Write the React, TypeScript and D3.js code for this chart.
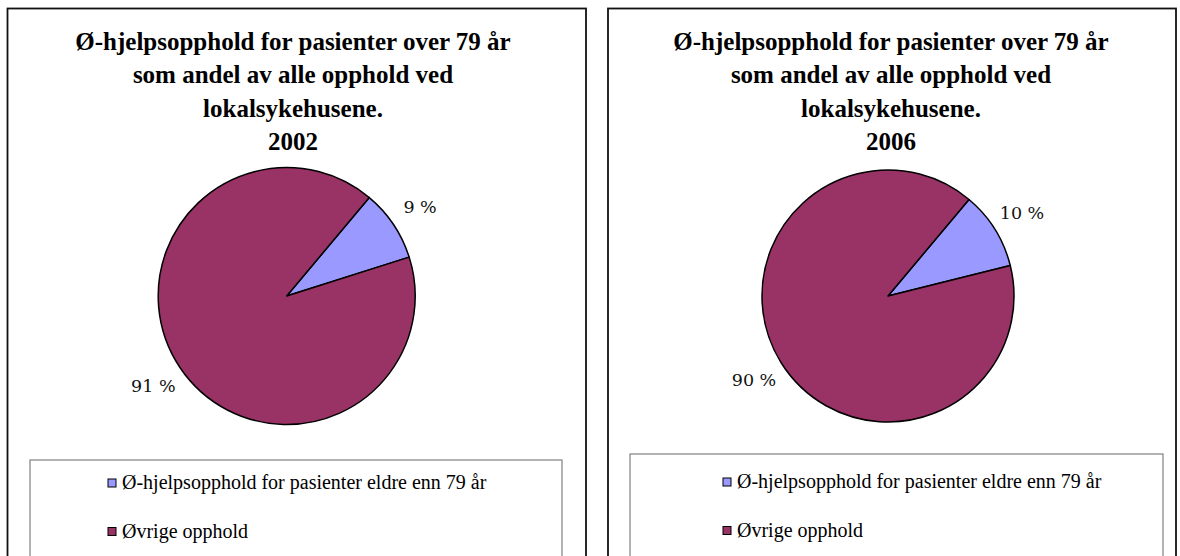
import React from "react";
import * as d3 from "d3";

// chart data
const titleLines = [
  "Ø-hjelpsopphold for pasienter over 79 år",
  "som andel av alle opphold ved",
  "lokalsykehusene.",
];
const years = ["2002", "2006"];
const categories = [
  "Ø-hjelpsopphold for pasienter eldre enn 79 år",
  "Øvrige opphold",
];
const values2002 = [9, 91];
const values2006 = [10, 90];
const colors = ["#9999FF", "#993366"];

const W = 1180;
const H = 556;
const font = "'Liberation Serif', 'Times New Roman', Times, serif";
const labelFont = "'DejaVu Serif', serif";

// layout of the two chart boxes
const panels = [
  { x0: 7.5, x1: 586, titleX: 293, cx: 286.7, cy: 296, r: 128.5, lx0: 30, lx1: 562, ly: 460, mx: 108, row0: 483 },
  { x0: 608, x1: 1176, titleX: 891, cx: 888, cy: 296, r: 126, lx0: 630, lx1: 1163, ly: 454, mx: 723, row0: 482 },
];
const seriesByPanel = [values2002, values2006];

const pie = d3
  .pie<number>()
  .sort(null)
  .value((d) => d)
  .startAngle((40 * Math.PI) / 180)
  .endAngle((40 * Math.PI) / 180 + 2 * Math.PI);

function Panel({ idx }: { idx: number }) {
  const p = panels[idx];
  const values = seriesByPanel[idx];
  const arcs = pie(values);
  const arc = d3.arc<d3.PieArcDatum<number>>().innerRadius(0).outerRadius(p.r);
  const labelArc = d3
    .arc<d3.PieArcDatum<number>>()
    .innerRadius(p.r + 32)
    .outerRadius(p.r + 32);
  const lines = [...titleLines, years[idx]];
  const rowGap = 48.5;

  return (
    <g>
      <rect x={p.x0} y={8.5} width={p.x1 - p.x0} height={H} fill="#fff" stroke="#111" strokeWidth={1.8} />
      {lines.map((t, i) => (
        <text
          key={i}
          x={p.titleX}
          y={50 + i * 33.4}
          textAnchor="middle"
          fontFamily={font}
          fontWeight="bold"
          fontSize={25}
          fill="#000"
        >
          {t}
        </text>
      ))}
      <g transform={`translate(${p.cx},${p.cy})`}>
        {arcs.map((a, i) => (
          <path key={i} d={arc(a) || ""} fill={colors[i]} stroke="#000" strokeWidth={1.5} strokeLinejoin="round" />
        ))}
        {arcs.map((a, i) => {
          const [lx, ly] = labelArc.centroid(a);
          return (
            <text
              key={"l" + i}
              x={lx}
              y={ly}
              dy="0.36em"
              textAnchor="middle"
              fontFamily={labelFont}
              fontSize={17.5}
              fill="#111"
            >
              {values[i] + " %"}
            </text>
          );
        })}
      </g>
      <rect x={p.lx0} y={p.ly} width={p.lx1 - p.lx0} height={H} fill="#fff" stroke="#808080" strokeWidth={1.2} />
      {categories.map((c, i) => {
        const yc = p.row0 + i * rowGap;
        return (
          <g key={c}>
            <rect x={p.mx} y={yc - 4} width={8} height={8} fill={colors[i]} stroke="#000" strokeWidth={1} />
            <text x={p.mx + 14} y={yc + 6} fontFamily={font} fontSize={20} fill="#000">
              {c}
            </text>
          </g>
        );
      })}
    </g>
  );
}

export default function App() {
  return (
    <svg
      width={W}
      height={H}
      viewBox={`0 0 ${W} ${H}`}
      style={{ position: "absolute", left: 0, top: 0, background: "#fff" }}
    >
      <rect x={0} y={0} width={W} height={H} fill="#fff" />
      {panels.map((_, i) => (
        <Panel key={i} idx={i} />
      ))}
    </svg>
  );
}
